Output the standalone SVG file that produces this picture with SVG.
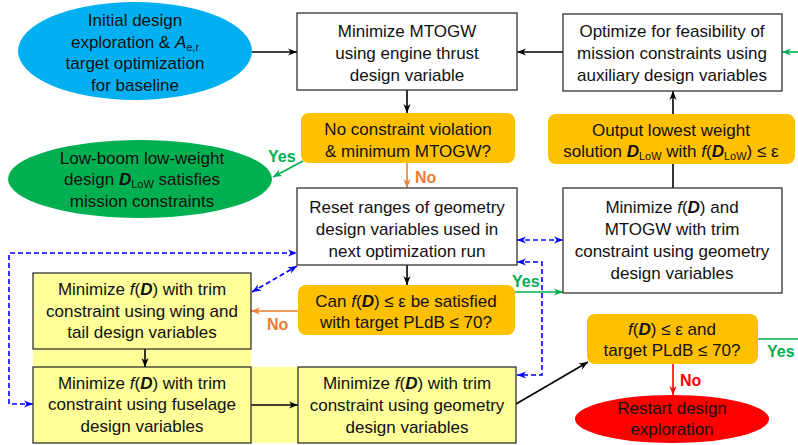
<svg xmlns="http://www.w3.org/2000/svg" width="798" height="445" viewBox="0 0 798 445">
<defs>
<style>
.t{font-family:"Liberation Sans",Arial,sans-serif;font-size:17px;fill:#111;text-anchor:middle}
.i{font-style:italic}
.bi{font-style:italic;font-weight:bold}
.sub{font-size:11px}
.lbl{font-family:"Liberation Sans",Arial,sans-serif;font-size:16px;font-weight:bold}
.box{fill:#fff;stroke:#333;stroke-width:1.3}
.ybox{fill:#FFFF99;stroke:#333;stroke-width:1.3}
.dec{fill:#FFC000}
.c{fill:none;stroke-width:1.6}
.k{stroke:#000}
.o{stroke:#ED7D31}
.g{stroke:#00B050}
.r{stroke:#FF0000}
.b{stroke:#0000FF;stroke-dasharray:5 3}
</style>
<marker id="ak" viewBox="0 0 10 10" refX="10" refY="5" markerWidth="9" markerHeight="9" markerUnits="userSpaceOnUse" orient="auto-start-reverse"><path d="M0,1 L10,5 L0,9 L3,5 z" fill="#000"/></marker>
<marker id="ao" viewBox="0 0 10 10" refX="10" refY="5" markerWidth="9" markerHeight="9" markerUnits="userSpaceOnUse" orient="auto-start-reverse"><path d="M0,1 L10,5 L0,9 L3,5 z" fill="#ED7D31"/></marker>
<marker id="ag" viewBox="0 0 10 10" refX="10" refY="5" markerWidth="9" markerHeight="9" markerUnits="userSpaceOnUse" orient="auto-start-reverse"><path d="M0,1 L10,5 L0,9 L3,5 z" fill="#00B050"/></marker>
<marker id="ar" viewBox="0 0 10 10" refX="10" refY="5" markerWidth="9" markerHeight="9" markerUnits="userSpaceOnUse" orient="auto-start-reverse"><path d="M0,1 L10,5 L0,9 L3,5 z" fill="#FF0000"/></marker>
<marker id="ab" viewBox="0 0 10 10" refX="10" refY="5" markerWidth="9" markerHeight="9" markerUnits="userSpaceOnUse" orient="auto-start-reverse"><path d="M0,1 L10,5 L0,9 L3,5 z" fill="#0000FF"/></marker>
</defs>
<rect width="798" height="445" fill="#fff"/>
<g id="yellow-bg">
<rect x="33" y="273" width="218" height="170" fill="#FFFF99"/>
<rect x="251" y="367" width="47" height="76" fill="#FFFF99"/>
</g>
<g id="connectors">
<path class="c k" d="M252,52 L297,52" marker-end="url(#ak)"/>
<path class="c k" d="M563,52 L517,52" marker-end="url(#ak)"/>
<path class="c k" d="M407,90 L407,113" marker-end="url(#ak)"/>
<path class="c k" d="M673,114 L673,91" marker-end="url(#ak)"/>
<path class="c k" d="M673,188 L673,164"/>
<path class="c k" d="M407,265 L407,285" marker-end="url(#ak)"/>
<path class="c k" d="M145,349 L145,367" marker-end="url(#ak)"/>
<path class="c k" d="M251,405 L298,405" marker-end="url(#ak)"/>
<path class="c k" d="M516,404 L588,362" marker-end="url(#ak)"/>
<path class="c o" d="M407,163 L407,188" marker-end="url(#ao)"/>
<path class="c o" d="M298,311 L251,311" marker-end="url(#ao)"/>
<path class="c r" d="M673,364 L673,395" marker-end="url(#ar)"/>
<path class="c b" d="M33,404 L9,404 L9,253 L297,253" marker-start="url(#ab)" marker-end="url(#ab)"/>
<path class="c b" d="M252,292 L297,266" marker-start="url(#ab)" marker-end="url(#ab)"/>
<path class="c b" d="M517,240 L563,240" marker-start="url(#ab)" marker-end="url(#ab)"/>
<path class="c b" d="M517,262 L542,262 L542,375 L517,375" marker-start="url(#ab)" marker-end="url(#ab)"/>
<path class="c g" d="M303,161 L273,177" marker-end="url(#ag)"/>
<path class="c g" d="M515,292 L563,292" marker-end="url(#ag)"/>
<path class="c g" d="M798,52 L782,52" marker-end="url(#ag)"/>
<path class="c g" d="M758,339 L798,339"/>
<text class="lbl" x="268" y="162" fill="#00B050">Yes</text>
<text class="lbl" x="415" y="183" fill="#ED7D31">No</text>
<text class="lbl" x="267" y="330" fill="#ED7D31">No</text>
<text class="lbl" x="512" y="287" fill="#00B050">Yes</text>
<text class="lbl" x="767" y="357" fill="#00B050">Yes</text>
<text class="lbl" x="680" y="386" fill="#FF0000">No</text>
</g>
<g id="start">
<ellipse cx="135" cy="51" rx="117" ry="49" fill="#00B0F0"/>
<text class="t" x="135" y="26">Initial design</text>
<text class="t" x="135" y="48">exploration &amp; <tspan class="i">A</tspan><tspan class="sub" dy="3">e,r</tspan></text>
<text class="t" x="135" y="69">target optimization</text>
<text class="t" x="135" y="91">for baseline</text>
</g>
<g id="min-mtogw">
<rect class="box" x="297" y="13" width="220" height="77"/>
<text class="t" x="407" y="37">Minimize MTOGW</text>
<text class="t" x="407" y="59">using engine thrust</text>
<text class="t" x="407" y="81">design variable</text>
</g>
<g id="optimize-feasibility">
<rect class="box" x="563" y="14" width="219" height="77"/>
<text class="t" x="672" y="37">Optimize for feasibility of</text>
<text class="t" x="672" y="59">mission constraints using</text>
<text class="t" x="672" y="81">auxiliary design variables</text>
</g>
<g id="check-constraint">
<rect class="dec" x="301" y="113" width="214" height="50" rx="8"/>
<text class="t" x="408" y="135">No constraint violation</text>
<text class="t" x="408" y="157">&amp; minimum MTOGW?</text>
</g>
<g id="output-lowest">
<rect class="dec" x="548" y="114" width="247" height="50" rx="8"/>
<text class="t" x="671" y="136">Output lowest weight</text>
<text class="t" x="671" y="157">solution <tspan class="bi">D</tspan><tspan class="sub" dy="3">LoW</tspan><tspan dy="-3"> with </tspan><tspan class="i">f</tspan>(<tspan class="bi">D</tspan><tspan class="sub" dy="3">LoW</tspan><tspan dy="-3">) ≤ ε</tspan></text>
</g>
<g id="low-boom-design">
<ellipse cx="140" cy="179" rx="132" ry="39" fill="#00B050"/>
<text class="t" x="142" y="164">Low-boom low-weight</text>
<text class="t" x="142" y="185">design <tspan class="bi">D</tspan><tspan class="sub" dy="3">LoW</tspan><tspan dy="-3"> satisfies</tspan></text>
<text class="t" x="142" y="207">mission constraints</text>
</g>
<g id="reset-ranges">
<rect class="box" x="297" y="188" width="220" height="77"/>
<text class="t" x="407" y="213">Reset ranges of geometry</text>
<text class="t" x="407" y="235">design variables used in</text>
<text class="t" x="407" y="257">next optimization run</text>
</g>
<g id="min-f-mtogw">
<rect class="box" x="563" y="188" width="219" height="105"/>
<text class="t" x="672" y="213">Minimize <tspan class="i">f</tspan>(<tspan class="bi">D</tspan>) and</text>
<text class="t" x="672" y="235">MTOGW with trim</text>
<text class="t" x="672" y="257">constraint using geometry</text>
<text class="t" x="672" y="279">design variables</text>
</g>
<g id="can-satisfy">
<rect class="dec" x="298" y="285" width="217" height="50" rx="8"/>
<text class="t" x="406" y="307">Can <tspan class="i">f</tspan>(<tspan class="bi">D</tspan>) ≤ ε be satisfied</text>
<text class="t" x="406" y="328">with target PLdB ≤ 70?</text>
</g>
<g id="wing-tail">
<rect class="ybox" x="33" y="273" width="218" height="76"/>
<text class="t" x="142" y="295">Minimize <tspan class="i">f</tspan>(<tspan class="bi">D</tspan>) with trim</text>
<text class="t" x="142" y="317">constraint using wing and</text>
<text class="t" x="142" y="338">tail design variables</text>
</g>
<g id="fuselage">
<rect class="ybox" x="33" y="367" width="218" height="76"/>
<text class="t" x="142" y="389">Minimize <tspan class="i">f</tspan>(<tspan class="bi">D</tspan>) with trim</text>
<text class="t" x="142" y="410">constraint using fuselage</text>
<text class="t" x="142" y="432">design variables</text>
</g>
<g id="geometry">
<rect class="ybox" x="298" y="367" width="218" height="76"/>
<text class="t" x="407" y="389">Minimize <tspan class="i">f</tspan>(<tspan class="bi">D</tspan>) with trim</text>
<text class="t" x="407" y="411">constraint using geometry</text>
<text class="t" x="407" y="433">design variables</text>
</g>
<g id="final-check">
<rect class="dec" x="587" y="314" width="171" height="50" rx="8"/>
<text class="t" x="672" y="335"><tspan class="i">f</tspan>(<tspan class="bi">D</tspan>) ≤ ε and</text>
<text class="t" x="672" y="356">target PLdB ≤ 70?</text>
</g>
<g id="restart">
<ellipse cx="672" cy="419" rx="97" ry="24" fill="#FF0000"/>
<text class="t" x="672" y="414">Restart design</text>
<text class="t" x="672" y="435">exploration</text>
</g>
</svg>
